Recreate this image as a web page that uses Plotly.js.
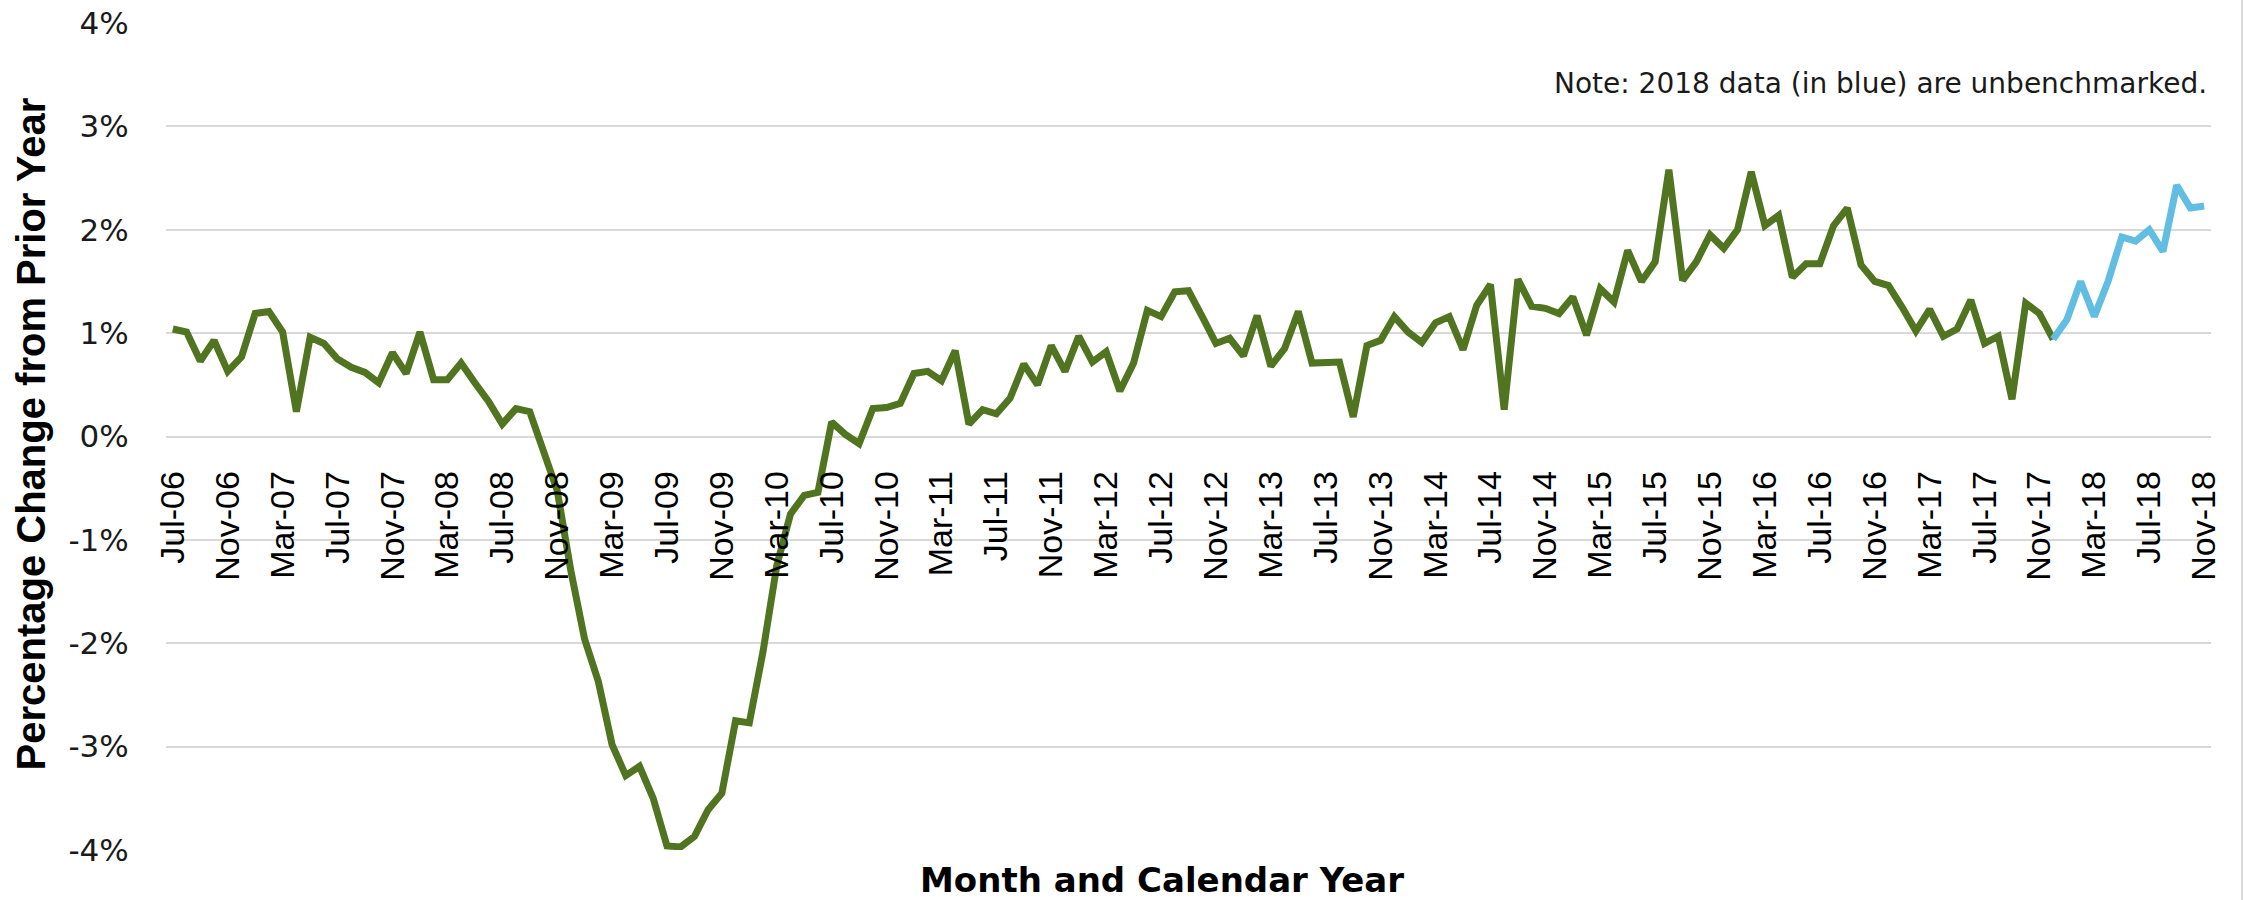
<!DOCTYPE html>
<html>
<head>
<meta charset="utf-8">
<script src="https://cdn.plot.ly/plotly-3.0.1.min.js"></script>
<style>
  html, body { margin: 0; padding: 0; background: #ffffff; }
  #chart { width: 2243px; height: 900px; }
</style>
</head>
<body>
<div id="chart"></div>
<script>
// Month categories (Jul-06 .. Nov-18)
const months = [
  'Jul-06','Aug-06','Sep-06','Oct-06','Nov-06','Dec-06',
  'Jan-07','Feb-07','Mar-07','Apr-07','May-07','Jun-07','Jul-07','Aug-07','Sep-07','Oct-07','Nov-07','Dec-07',
  'Jan-08','Feb-08','Mar-08','Apr-08','May-08','Jun-08','Jul-08','Aug-08','Sep-08','Oct-08','Nov-08','Dec-08',
  'Jan-09','Feb-09','Mar-09','Apr-09','May-09','Jun-09','Jul-09','Aug-09','Sep-09','Oct-09','Nov-09','Dec-09',
  'Jan-10','Feb-10','Mar-10','Apr-10','May-10','Jun-10','Jul-10','Aug-10','Sep-10','Oct-10','Nov-10','Dec-10',
  'Jan-11','Feb-11','Mar-11','Apr-11','May-11','Jun-11','Jul-11','Aug-11','Sep-11','Oct-11','Nov-11','Dec-11',
  'Jan-12','Feb-12','Mar-12','Apr-12','May-12','Jun-12','Jul-12','Aug-12','Sep-12','Oct-12','Nov-12','Dec-12',
  'Jan-13','Feb-13','Mar-13','Apr-13','May-13','Jun-13','Jul-13','Aug-13','Sep-13','Oct-13','Nov-13','Dec-13',
  'Jan-14','Feb-14','Mar-14','Apr-14','May-14','Jun-14','Jul-14','Aug-14','Sep-14','Oct-14','Nov-14','Dec-14',
  'Jan-15','Feb-15','Mar-15','Apr-15','May-15','Jun-15','Jul-15','Aug-15','Sep-15','Oct-15','Nov-15','Dec-15',
  'Jan-16','Feb-16','Mar-16','Apr-16','May-16','Jun-16','Jul-16','Aug-16','Sep-16','Oct-16','Nov-16','Dec-16',
  'Jan-17','Feb-17','Mar-17','Apr-17','May-17','Jun-17','Jul-17','Aug-17','Sep-17','Oct-17','Nov-17','Dec-17',
  'Jan-18','Feb-18','Mar-18','Apr-18','May-18','Jun-18','Jul-18','Aug-18','Sep-18','Oct-18','Nov-18'
];

// Benchmarked series (Jul-06 .. Dec-17), percent change from prior year
const benchmarkedMonths = months.slice(0, 138);
const benchmarkedValues = [
  1.04, 1.01, 0.73, 0.93, 0.63, 0.77,
  1.19, 1.21, 1.01, 0.24, 0.96, 0.90, 0.75, 0.67, 0.62, 0.52, 0.81, 0.61,
  1.01, 0.55, 0.55, 0.71, 0.52, 0.34, 0.12, 0.27, 0.24, -0.12, -0.52, -1.30,
  -1.96, -2.37, -2.98, -3.28, -3.19, -3.50, -3.96, -3.97, -3.87, -3.61, -3.45, -2.75,
  -2.77, -2.08, -1.25, -0.75, -0.57, -0.54, 0.14, 0.02, -0.07, 0.27, 0.28, 0.32,
  0.61, 0.63, 0.54, 0.83, 0.12, 0.26, 0.22, 0.37, 0.70, 0.50, 0.88, 0.63,
  0.97, 0.72, 0.82, 0.44, 0.71, 1.22, 1.16, 1.40, 1.41, 1.16, 0.90, 0.95,
  0.78, 1.17, 0.68, 0.85, 1.21, 0.71, 0.71, 0.72, 0.19, 0.88, 0.93, 1.16,
  1.01, 0.91, 1.10, 1.16, 0.84, 1.27, 1.47, 0.26, 1.52, 1.26, 1.24, 1.19,
  1.35, 0.98, 1.43, 1.30, 1.80, 1.50, 1.69, 2.58, 1.51, 1.69, 1.95, 1.82,
  2.00, 2.56, 2.04, 2.14, 1.54, 1.67, 1.67, 2.04, 2.21, 1.66, 1.50, 1.46,
  1.25, 1.02, 1.23, 0.97, 1.04, 1.32, 0.90, 0.97, 0.36, 1.29, 1.19, 0.94
];

// Unbenchmarked 2018 series (joined from Dec-17 .. Nov-18)
const unbenchmarkedMonths = months.slice(137);
const unbenchmarkedValues = [0.94, 1.13, 1.50, 1.16, 1.50, 1.93, 1.89, 2.00, 1.79, 2.43, 2.21, 2.23];

// Axis tick labels
const xTickLabels = [
  'Jul-06','Nov-06','Mar-07','Jul-07','Nov-07','Mar-08','Jul-08','Nov-08','Mar-09','Jul-09',
  'Nov-09','Mar-10','Jul-10','Nov-10','Mar-11','Jul-11','Nov-11','Mar-12','Jul-12','Nov-12',
  'Mar-13','Jul-13','Nov-13','Mar-14','Jul-14','Nov-14','Mar-15','Jul-15','Nov-15','Mar-16',
  'Jul-16','Nov-16','Mar-17','Jul-17','Nov-17','Mar-18','Jul-18','Nov-18'
];
const yTickValues = [-4, -3, -2, -1, 0, 1, 2, 3, 4];
const yTickLabels = ['-4%', '-3%', '-2%', '-1%', '0%', '1%', '2%', '3%', '4%'];

const noteText = 'Note: 2018 data (in blue) are unbenchmarked.';
const xTitleText = 'Month and Calendar Year';
const yTitleText = 'Percentage Change from Prior Year';

const traces = [
  {
    type: 'scatter', mode: 'lines',
    x: benchmarkedMonths, y: benchmarkedValues,
    line: { color: '#50741f', width: 7 },
    hoverinfo: 'x+y', showlegend: false
  },
  {
    type: 'scatter', mode: 'lines',
    x: unbenchmarkedMonths, y: unbenchmarkedValues,
    line: { color: '#62bde3', width: 7 },
    hoverinfo: 'x+y', showlegend: false
  }
];

const layout = {
  width: 2243, height: 900,
  margin: { l: 166, r: 32, t: 23, b: 50 },
  paper_bgcolor: '#ffffff', plot_bgcolor: '#ffffff',
  showlegend: false,
  xaxis: {
    type: 'category',
    categoryorder: 'array', categoryarray: months,
    range: [-0.5, months.length - 0.5],
    anchor: 'free', position: 0.5,
    tickmode: 'array', tickvals: xTickLabels, ticktext: xTickLabels,
    tickangle: -90,
    ticks: 'outside', ticklen: 20, tickcolor: 'rgba(0,0,0,0)',
    tickfont: { family: 'Liberation Sans, Arial, sans-serif', size: 34, color: '#000000' },
    showgrid: false, showline: false, zeroline: false,
    fixedrange: true
  },
  yaxis: {
    range: [-4, 4],
    tickmode: 'array', tickvals: yTickValues, ticktext: yTickLabels,
    ticks: 'outside', ticklen: 30, tickcolor: 'rgba(0,0,0,0)',
    tickfont: { family: 'DejaVu Sans, Verdana, sans-serif', size: 31, color: '#1a1a1a' },
    showgrid: true, gridcolor: '#d9d9d9', gridwidth: 2,
    zeroline: false, showline: false,
    fixedrange: true
  },
  annotations: [
    {
      text: noteText, xref: 'paper', yref: 'y', x: 1, y: 3.41,
      xanchor: 'right', yanchor: 'middle', xshift: -2, showarrow: false,
      font: { family: 'DejaVu Sans, Verdana, sans-serif', size: 28, color: '#1a1a1a' }
    },
    {
      text: '<b>' + xTitleText + '</b>', xref: 'paper', yref: 'paper', x: 0.487, y: 0,
      xanchor: 'center', yanchor: 'middle', yshift: -30, showarrow: false,
      font: { family: 'DejaVu Sans, Verdana, sans-serif', size: 34, color: '#000000' }
    },
    {
      text: '<b>' + yTitleText + '</b>', xref: 'paper', yref: 'paper', x: 0, y: 0.5,
      xanchor: 'center', yanchor: 'middle', xshift: -136, yshift: 2, showarrow: false, textangle: -90,
      font: { family: 'Liberation Sans Narrow, Liberation Sans, Arial, sans-serif', size: 40, color: '#000000' }
    }
  ],
  shapes: [
    {
      type: 'line', xref: 'paper', yref: 'paper',
      x0: 1.0152, x1: 1.0152, y0: -0.0605, y1: 1.028,
      line: { color: '#d9d9d9', width: 2 }
    }
  ]
};

Plotly.newPlot('chart', traces, layout, { displayModeBar: false, staticPlot: true });
</script>
</body>
</html>
